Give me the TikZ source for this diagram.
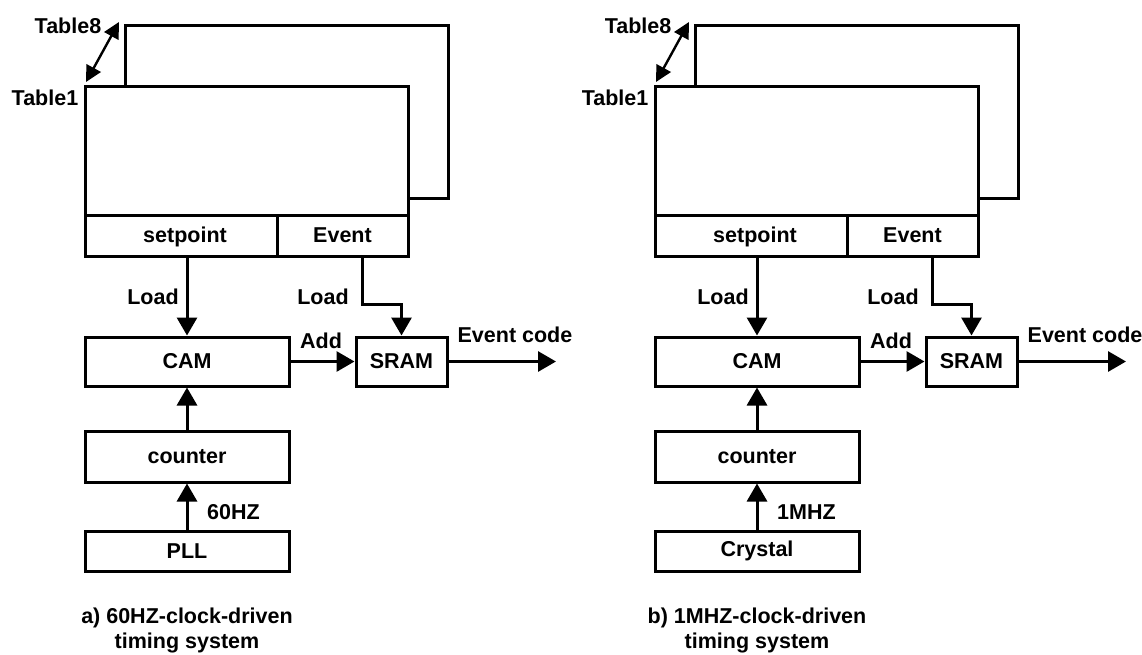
\documentclass[tikz,border=0pt]{standalone}
\usepackage{fontspec}
\setmainfont{Liberation Sans}
\usetikzlibrary{arrows.meta}
\tikzset{
  txt/.style={font=\fontsize{21.5}{25}\selectfont\bfseries, inner sep=0pt},
  ln/.style={line width=3pt},
  box/.style={draw, rectangle, line width=3pt, inner sep=0pt, txt},
  arr/.style={line width=3pt, -{Triangle[length=18pt,width=20pt]}},
  dbl/.style={line width=2.4pt, {Triangle[length=16pt,width=16pt]}-{Triangle[length=16pt,width=16pt]}},
}
\newcommand\mkpanel[6]{%
\begin{scope}[xshift=#2]
  % back table (Table8)
  \draw[ln] (125,86) |- (448,25) |- (408,198);
  % front table (Table1)
  \node[box, minimum width=323pt, minimum height=129pt] (#1t) at (246.5,150.5) {};
  \node[box, minimum width=192pt, minimum height=41pt] (#1sp) at (181,235.5) {};
  \node[txt] at (185,237) {setpoint};
  \node[box, minimum width=131pt, minimum height=41pt] (#1ev) at (342.5,235.5) {Event};
  \coordinate (#1tip) at (119,22);
  \coordinate (#1bot) at (86,82);
  \draw[dbl] (#1bot) -- (#1tip);
  \node[txt] (#1l8) at (68,26) {Table8};
  \node[txt] (#1l1) at (45,98) {Table1};
  % lower blocks
  \node[box, minimum width=204pt, minimum height=49pt] (#1cam) at (187,361.5) {CAM};
  \node[box, minimum width=91pt, minimum height=49pt] (#1sram) at (401.5,361.5) {SRAM};
  \node[box, minimum width=204pt, minimum height=51pt] (#1ctr) at (187,456.5) {counter};
  \node[box, minimum width=204pt, minimum height=40pt] (#1src) at (187,551) {#4};
  % connectors
  \draw[arr] (#1cam.north |- #1sp.south) -- (#1cam.north);
  \node[txt] (#1ld1) at (153,297) {Load};
  \draw[arr] ([xshift=19.5pt]#1ev.south) -- ++(0,47) -| (#1sram.north);
  \node[txt] (#1ld2) at (323,297) {Load};
  \draw[arr] (#1cam.east) -- (#1sram.west);
  \node[txt] (#1add) at (321,341) {Add};
  \coordinate (#1out) at (556,361.5);
  \draw[arr] (#1sram.east) -- (#1out);
  \node[txt] (#1evc) at (515,335) {Event code};
  \draw[arr] (#1ctr.north) -- (#1cam.south);
  \draw[arr] (#1src.north) -- (#1ctr.south);
  \node[txt, anchor=west] (#1frq) at (207,512) {#3};
  \node[txt, align=center] (#1cap) at (187,630) {#5\\#6};
\end{scope}}
\begin{document}
\begin{tikzpicture}[x=1pt, y=-1pt]
  \useasboundingbox (0,0) rectangle (1142,654);
  \mkpanel{a}{0pt}{60HZ}{PLL}{a) 60HZ-clock-driven}{timing system}
  \mkpanel{b}{570pt}{1MHZ}{Crystal}{b) 1MHZ-clock-driven}{timing system}
\end{tikzpicture}
\end{document}
